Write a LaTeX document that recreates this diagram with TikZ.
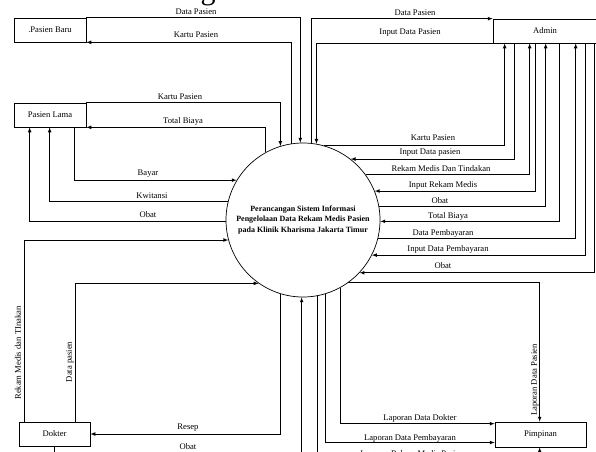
\documentclass[tikz,border=0pt]{standalone}
\usepackage{fontspec}
\setmainfont{Liberation Serif}
\usetikzlibrary{positioning}

\tikzset{
  entity/.style={draw, minimum height=24pt, inner sep=0pt, font=\fontsize{8.6}{10}\selectfont},
  proses/.style={circle, draw, minimum size=154pt, inner sep=0pt, align=center, font=\fontsize{8}{10.5}\selectfont\bfseries},
  lbl/.style={inner sep=0pt, font=\fontsize{8.6}{10}\selectfont}
}

\begin{document}
\begin{tikzpicture}[x=1pt, y=-1pt, line width=0.7pt]
\useasboundingbox (0,0) rectangle (596,451);

\node (judul) at (208,-1) [anchor=base, font=\fontsize{30}{32}\selectfont] {g};

% entitas
\node (pb) [entity, minimum width=72pt] at (50,30) {.Pasien Baru};
\node (pl) [entity, minimum width=72pt] at (50,115) {Pasien Lama};
\node (admin) [entity, minimum width=104pt] at (545,31) {Admin};
\node (dk) [entity, minimum width=71pt] at (54.5,434) {Dokter};
\node (pm) [entity, minimum width=91pt, minimum height=25pt] at (540.5,434.5) {Pimpinan};

% proses
\node (c) [proses] at (303,220) {Perancangan Sistem Informasi\\Pengelolaan Data Rekam Medis Pasien\\pada Klinik Kharisma Jakarta Timur};

% pasien baru
\draw [-latex] (pb.north east) -| (c.92);
\draw [-latex] (c.99) |- (pb.south east);
\node (l1) [lbl] at (196,12) {Data Pasien};
\node (l2) [lbl] at (196,35) {Kartu Pasien};

% pasien lama
\draw [-latex] (pl.north east) -| (c.107);
\draw [-latex] (c.119) |- (pl.south east);
\draw [-latex] ([xshift=61pt]pl.south west) |- (c.149);
\draw [-latex] (c.166) -| ([xshift=36pt]pl.south west);
\draw [-latex] (c.181) -| ([xshift=16pt]pl.south west);
\node (l3) [lbl] at (180,97) {Kartu Pasien};
\node (l4) [lbl] at (183,121) {Total Biaya};
\node (l5) [lbl] at (148,174) {Bayar};
\node (l6) [lbl] at (152,196) {Kwitansi};
\node (l7) [lbl] at (148,215) {Obat};

% admin
\draw [-latex] (c.84) |- (admin.north west);
\draw [-latex] (admin.south west) -| (c.80);
\draw [-latex] (c.74) -| ([xshift=12pt]admin.south west);
\draw [-latex] ([xshift=22pt]admin.south west) |- (c.52);
\draw [-latex] (c.36) -| ([xshift=37pt]admin.south west);
\draw [-latex] ([xshift=43pt]admin.south west) |- (c.22);
\draw [-latex] (c.10) -| ([xshift=53pt]admin.south west);
\draw [-latex] ([xshift=67pt]admin.south west) |- (c.-1);
\draw [-latex] (c.-14) -| ([xshift=83pt]admin.south west);
\draw [-latex] ([xshift=93pt]admin.south west) |- (c.-27);
\draw [-latex] ([xshift=102pt]admin.south west) |- (c.-43);
\node (l8) [lbl] at (415,13) {Data Pasien};
\node (l9) [lbl] at (410,33) {Input Data Pasien};
\node (l10) [lbl] at (433,138) {Kartu Pasien};
\node (l11) [lbl] at (430,153) {Input Data pasien};
\node (l12) [lbl] at (441,169) {Rekam Medis Dan Tindakan};
\node (l13) [lbl] at (443,185) {Input Rekam Medis};
\node (l14) [lbl] at (440,201) {Obat};
\node (l15) [lbl] at (448,216) {Total Biaya};
\node (l16) [lbl] at (443,233) {Data Pembayaran};
\node (l17) [lbl] at (448,249) {Input Data Pembayaran};
\node (l18) [lbl] at (443,266) {Obat};

% dokter
\draw [-latex] ([xshift=6pt]dk.north west) |- (c.195);
\draw [-latex] ([xshift=57pt]dk.north west) |- (c.235);
\draw [-latex] (c.253) |- (dk.east);
\draw [-latex] ([xshift=36pt]dk.south west) -- ++(0,12) -| (c.269);
\node (l19) [lbl, rotate=90] at (18,353) {Rekam Medis dan TInakan};
\node (l20) [lbl, rotate=90] at (70,362) {Data pasien};
\node (l21) [lbl] at (188,428) {Resep};
\node (l22) [lbl] at (188,447) {Obat};

% pimpinan
\draw [-latex] (c.-54) -| ([xshift=45pt]pm.north west);
\draw [-latex] (c.299) |- ([yshift=-2pt]pm.north west);
\draw [-latex] (c.287) |- ([yshift=-8pt]pm.west);
\draw [-latex] (c.281) |- ([xshift=45pt,yshift=-12pt]pm.south west) -- ([xshift=45pt]pm.south west);
\node (l23) [lbl, rotate=90] at (535,380) {Laporan Data Pasien};
\node (l24) [lbl] at (420,418) {Laporan Data Dokter};
\node (l25) [lbl] at (410,438) {Laporan Data Pembayaran};
\node (l26) [lbl] at (412,454) {Laporan Rekam Medis Pasien};
\end{tikzpicture}
\end{document}
